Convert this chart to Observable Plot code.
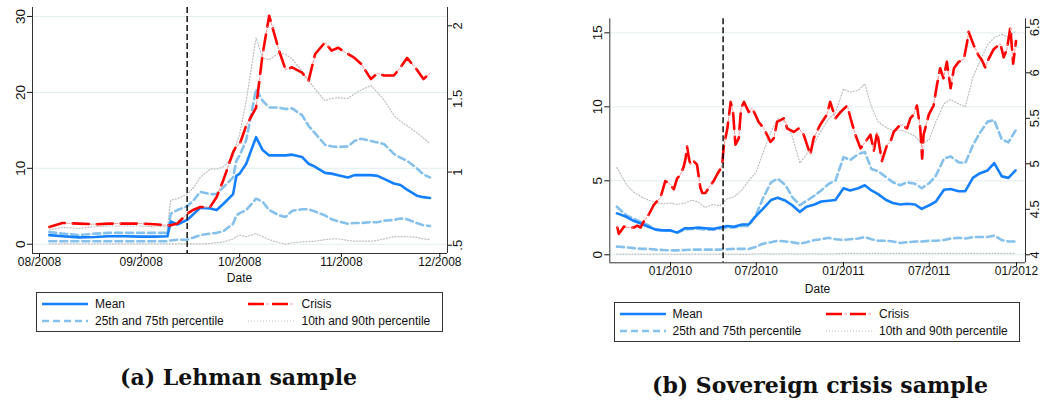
<!DOCTYPE html>
<html><head><meta charset="utf-8">
<script src="https://cdn.jsdelivr.net/npm/d3@7"></script>
<script src="https://cdn.jsdelivr.net/npm/@observablehq/plot@0.6"></script>
<style>
html,body{margin:0;padding:0;background:#fff;}
#root{position:relative;width:1041px;height:403px;overflow:hidden;font-family:"Liberation Sans",Arial,Helvetica,sans-serif;color:#111;}
.legend{position:absolute;border:1px solid #333;box-sizing:border-box;}
.item{position:absolute;font-size:12px;line-height:14px;white-space:nowrap;}
.cap{position:absolute;font-family:"DejaVu Serif",serif;font-weight:bold;font-size:22px;line-height:26px;white-space:nowrap;}
.xlab{position:absolute;font-size:12px;line-height:14px;transform:translateX(-50%);}
</style></head>
<body><div id="root"></div>
<script>
// ---------- Panel (a): Lehman sample ----------
const aDates = ["2008-08-04","2008-08-08","2008-08-13","2008-08-18","2008-08-22","2008-08-27","2008-09-01","2008-09-05","2008-09-09","2008-09-10","2008-09-12","2008-09-15","2008-09-17","2008-09-19","2008-09-22","2008-09-24","2008-09-26","2008-09-29","2008-09-30","2008-10-01","2008-10-03","2008-10-06","2008-10-08","2008-10-10","2008-10-13","2008-10-15","2008-10-17","2008-10-20","2008-10-22","2008-10-24","2008-10-27","2008-10-29","2008-10-31","2008-11-03","2008-11-05","2008-11-07","2008-11-10","2008-11-12","2008-11-14","2008-11-17","2008-11-19","2008-11-21","2008-11-24","2008-11-26","2008-11-28"];
const aMean = [1.2,1.05,0.9,0.95,1.05,1.05,1.0,1.0,1.05, 3.0,2.6,3.2,4.0,4.8,4.7,4.5,5.3,6.6,9.0, 9.3,10.6,14.1,12.4,11.7,11.7,11.7,11.8,11.5,10.6,10.2,9.4,9.3,9.1, 8.8,9.1,9.1,9.1,9.0,8.6,8.0,7.8,7.2,6.4,6.2,6.1];
const aP25 = [0.4,0.4,0.4,0.4,0.4,0.4,0.4,0.4,0.4, 0.5,0.6,0.6,0.9,1.2,1.4,1.5,1.7,2.7,3.8, 4.1,4.5,6.0,5.6,4.5,3.8,3.6,4.4,4.6,4.6,4.3,3.8,3.3,3.0, 2.7,2.8,2.8,2.9,2.9,3.1,3.2,3.4,3.3,2.8,2.5,2.4];
const aP75 = [1.6,1.4,1.2,1.4,1.5,1.5,1.5,1.5,1.5, 4.0,4.5,5.0,5.8,6.9,6.6,6.6,7.5,8.8,11.0, 11.7,13.7,20.4,18.9,18.0,18.0,17.8,17.9,17.0,15.6,14.6,13.1,12.9,12.8, 12.9,13.6,13.9,13.6,13.4,13.2,11.9,11.4,11.0,10.0,9.2,8.8];
const aP10 = [0.05,0.05,0.05,0.05,0.05,0.05,0.05,0.05,0.05, 0.05,0.05,0.05,0.05,0.05,0.1,0.2,0.3,0.7,1.0, 1.2,1.0,1.4,1.0,0.6,0.2,0.0,0.2,0.3,0.35,0.4,0.6,0.7,0.7, 0.5,0.4,0.4,0.4,0.5,0.7,1.0,1.0,1.0,0.9,0.7,0.6];
const aP90 = [1.9,2.2,2.1,2.3,2.4,2.4,2.4,2.3,2.3, 5.8,6.0,6.6,7.5,8.8,9.9,9.9,10.2,11.5,13.2, 14.5,18.9,27.2,24.5,24.3,25.2,25.0,24.4,22.8,21.6,20.4,18.9,19.2,19.3, 19.2,19.8,20.3,20.9,20.0,19.0,17.0,16.2,15.6,14.7,14.0,13.2];
// Crisis series is on the right-hand axis
const aCrisis = [0.625,0.652,0.648,0.643,0.648,0.648,0.648,0.643,0.636, 0.636,0.648,0.716,0.743,0.761,0.761,0.83,0.943,1.136,1.177, 1.19,1.318,1.44,1.807,2.068,1.83,1.70,1.716,1.68,1.625,1.807,1.886,1.83,1.85, 1.807,1.78,1.74,1.636,1.675,1.66,1.66,1.716,1.78,1.70,1.636,1.675];
const aLeftTicks = [0,10,20,30];
const aRightTicks = [0.5,1,1.5,2];
const aXTicks = ["2008-08-01","2008-09-01","2008-10-01","2008-11-01","2008-12-01"];
const aEvent = "2008-09-15";

// ---------- Panel (b): Sovereign crisis sample ----------
const bDates = ["2009-09-10","2009-09-15","2009-10-01","2009-10-15","2009-11-01","2009-11-15","2009-12-01","2009-12-15","2010-01-01","2010-01-15","2010-02-01","2010-02-15","2010-03-01","2010-03-15","2010-04-01","2010-04-15","2010-05-01","2010-05-15","2010-06-01","2010-06-15","2010-07-01","2010-07-15","2010-08-01","2010-08-15","2010-09-01","2010-09-15","2010-10-01","2010-10-15","2010-11-01","2010-11-15","2010-12-01","2010-12-15","2011-01-01","2011-01-15","2011-02-01","2011-02-15","2011-03-01","2011-03-15","2011-04-01","2011-04-15","2011-05-01","2011-05-15","2011-06-01","2011-06-15","2011-07-01","2011-07-15","2011-08-01","2011-08-15","2011-09-01","2011-09-15","2011-10-01","2011-10-15","2011-11-01","2011-11-15","2011-12-01","2011-12-15","2011-12-30"];
const bMean = [2.8,2.75,2.55,2.3,2.1,1.9,1.7,1.65,1.65,1.5,1.8,1.8,1.85,1.8,1.75,1.85,1.95,1.9,2.05,2.05, 2.65,3.1,3.7,3.85,3.65,3.35,2.9,3.25,3.4,3.6,3.65,3.7, 4.5,4.35,4.5,4.7,4.35,4.1,3.7,3.5,3.4,3.45,3.4,3.1,3.35,3.6,4.4,4.45,4.3,4.3,5.2,5.5,5.7,6.2,5.3,5.2,5.7];
const bP25 = [0.55,0.55,0.5,0.45,0.4,0.4,0.35,0.33,0.3,0.3,0.32,0.35,0.35,0.35,0.35,0.35,0.38,0.4,0.4,0.4, 0.55,0.75,0.85,0.95,0.9,0.85,0.75,0.85,1.0,1.05,1.15,1.05, 1.0,1.05,1.1,1.2,1.05,0.95,0.95,0.9,0.8,0.85,0.9,0.9,0.95,0.95,1.0,1.1,1.15,1.1,1.2,1.2,1.2,1.3,1.0,0.9,0.9];
const bP75 = [3.25,3.1,2.65,2.45,2.2,2.0,1.7,1.65,1.65,1.5,1.7,1.75,1.75,1.7,1.7,1.75,1.85,1.85,1.95,1.95, 2.75,3.8,4.9,5.15,4.7,3.9,3.35,3.65,4.0,4.35,4.8,5.0, 6.6,6.4,6.8,6.95,5.8,5.65,5.25,4.9,4.7,4.9,4.8,4.5,4.85,5.35,6.5,6.65,6.25,6.2,7.4,8.2,9.0,9.1,7.8,7.6,8.4];
const bP10 = [0.05,0.05,0.05,0.05,0.05,0.05,0.05,0.05,0.05,0.05,0.05,0.05,0.05,0.05,0.05,0.05,0.05,0.05,0.05,0.05, 0.07,0.07,0.07,0.07,0.07,0.07,0.07,0.07,0.07,0.07,0.07,0.07, 0.1,0.1,0.1,0.1,0.1,0.1,0.1,0.1,0.1,0.1,0.1,0.1,0.1,0.1,0.1,0.1,0.1,0.1,0.1,0.1,0.1,0.1,0.1,0.1,0.1];
const bP90 = [5.9,5.6,4.7,4.25,3.9,3.7,3.55,3.45,3.5,3.4,3.5,3.7,3.55,3.2,3.4,3.3,3.8,3.9,4.4,5.0, 5.6,6.9,8.3,9.2,9.0,8.0,6.2,6.8,7.6,8.4,9.2,9.6, 11.2,11.0,11.1,11.55,10.0,9.0,8.6,8.4,8.4,8.3,8.0,7.5,7.8,9.0,10.2,10.5,10.2,10.0,12.0,13.0,14.2,14.7,14.9,14.7,15.1];
const bCrisisDates = ["2009-09-11","2009-09-14","2009-09-18","2009-09-25","2009-10-02","2009-10-16","2009-10-23","2009-10-30","2009-11-06","2009-11-16","2009-11-27","2009-12-04","2009-12-11","2009-12-21","2009-12-28","2010-01-05","2010-01-08","2010-01-15","2010-01-22","2010-01-29","2010-02-02","2010-02-05","2010-02-09","2010-02-12","2010-02-19","2010-02-26","2010-03-05","2010-03-09","2010-03-16","2010-03-23","2010-04-02","2010-04-09","2010-04-16","2010-04-20","2010-04-23","2010-05-01","2010-05-08","2010-05-13","2010-05-18","2010-05-25","2010-05-30","2010-06-05","2010-06-15","2010-06-22","2010-06-29","2010-07-06","2010-07-17","2010-07-31","2010-08-07","2010-08-14","2010-08-28","2010-09-04","2010-09-18","2010-09-29","2010-10-09","2010-10-16","2010-10-23","2010-10-30","2010-11-13","2010-11-27","2010-12-04","2010-12-15","2010-12-26","2011-01-09","2011-01-16","2011-01-26","2011-02-06","2011-02-16","2011-02-27","2011-03-06","2011-03-13","2011-03-23","2011-04-03","2011-04-10","2011-04-17","2011-05-01","2011-05-15","2011-05-22","2011-05-29","2011-06-05","2011-06-12","2011-06-16","2011-06-19","2011-06-30","2011-07-10","2011-07-17","2011-07-24","2011-07-31","2011-08-07","2011-08-15","2011-08-22","2011-09-01","2011-09-12","2011-09-19","2011-09-22","2011-10-03","2011-10-13","2011-10-20","2011-10-27","2011-11-03","2011-11-14","2011-11-28","2011-12-05","2011-12-12","2011-12-19","2011-12-25","2011-12-31"];
const bCrisis = [4.30,4.23,4.26,4.31,4.30,4.30,4.32,4.30,4.37,4.44,4.55,4.59,4.63,4.81,4.79,4.74,4.72,4.84,4.88,4.97,5.06,5.19,5.06,4.99,5.03,4.99,4.74,4.68,4.68,4.74,4.81,4.88,4.94,4.98,5.17,5.39,5.68,5.57,5.21,5.28,5.61,5.68,5.57,5.61,5.54,5.46,5.39,5.24,5.28,5.46,5.50,5.39,5.35,5.39,5.32,5.21,5.10,5.28,5.43,5.54,5.68,5.50,5.57,5.64,5.50,5.32,5.17,5.24,5.32,5.14,5.35,5.03,5.21,5.24,5.35,5.43,5.39,5.50,5.54,5.64,5.39,5.06,5.32,5.54,5.64,5.86,6.05,5.94,6.12,5.83,6.05,6.12,6.15,6.34,6.45,6.30,6.19,6.14,6.06,6.15,6.26,6.32,6.17,6.26,6.50,6.10,6.35];
const bLeftTicks = [0,5,10,15];
const bRightTicks = [4,4.5,5,5.5,6,6.5];
const bXTicks = ["2010-01-01","2010-07-01","2011-01-01","2011-07-01","2012-01-01"];
const bEvent = "2010-04-22";

// ---------- styles ----------
const S = {
  mean:   {stroke:"#1580ff", strokeWidth:2.6},
  iqr:    {stroke:"#86c1ec", strokeWidth:2.6, strokeDasharray:"7,4"},
  dec:    {stroke:"#bdbdbd", strokeWidth:1.2, strokeDasharray:"1,2"},
  crisis: {stroke:"#ff0000", strokeWidth:2.6, strokeDasharray:"16,8"},
  crisisDot: {stroke:"#ff9a9a", strokeWidth:1, strokeDasharray:"0,18,3,3"}
};
const P = d => new Date(d.length === 10 ? d + "T00:00:00Z" : d);
const rows = (dates, vals, f = v => v) => dates.map((d, i) => ({date: P(d), v: f(vals[i])}));
const fmtR = r => { const s = String(+r.toFixed(1)); return s.startsWith("0.") ? s.slice(1) : s; };

function makePanel(c) {
  const toLeft = r => (r - c.rightBase) * c.rightScale;
  const fromLeft = v => v / c.rightScale + c.rightBase;
  const xd = c.xDomain.map(P);
  const line = (vals, st) => Plot.line(rows(c.dates, vals), {x: "date", y: "v", ...st});
  const crisisRows = rows(c.crisisDates, c.crisis, toLeft);
  const svg = Plot.plot({
    width: c.width, height: c.height,
    marginLeft: c.ml, marginRight: c.mr, marginTop: c.mt, marginBottom: c.mb,
    x: {type: "utc", domain: xd},
    y: {domain: c.yDomain},
    style: {fontFamily: "Liberation Sans, Arial, sans-serif", fontSize: "12px", color: "#111", background: "transparent", overflow: "visible"},
    marks: [
      Plot.ruleY(c.leftTicks, {stroke: "#e2edf0", strokeWidth: 1}),
      line(c.p10, S.dec), line(c.p90, S.dec),
      line(c.p25, S.iqr), line(c.p75, S.iqr),
      line(c.mean, S.mean),
      Plot.line(crisisRows, {x: "date", y: "v", ...S.crisis}),
      Plot.line(crisisRows, {x: "date", y: "v", ...S.crisisDot}),
      Plot.ruleX([P(c.event)], {stroke: "#000", strokeWidth: 1.4, strokeDasharray: "6,3"}),
      Plot.ruleX(xd, {stroke: "#333", strokeWidth: 1}),
      Plot.ruleY([c.yDomain[0]], {stroke: "#333", strokeWidth: 1}),
      Plot.axisY({anchor: "left", ticks: c.leftTicks, tickRotate: -90, tickSize: 5, tickPadding: 3, label: null, fontSize: 13.5}),
      Plot.axisY({anchor: "right", ticks: c.rightTicks.map(toLeft), tickFormat: v => fmtR(fromLeft(v)), tickRotate: -90, lineAnchor: "top", tickSize: 4, tickPadding: c.rpad, label: null, fontSize: 13}),
      Plot.axisX({ticks: c.xTicks.map(P), tickFormat: d3.utcFormat("%m/%Y"), tickSize: 4, tickPadding: 0, label: null, fontSize: 12})
    ]
  });
  svg.style.position = "absolute";
  svg.style.left = c.left + "px";
  svg.style.top = "0px";
  return svg;
}

const root = document.getElementById("root");
root.appendChild(makePanel({
  left: 0, width: 520, height: 290, ml: 32, mr: 73, mt: 7, mb: 37, rpad: 1.5,
  xDomain: ["2008-07-29T21:00:00Z", "2008-12-03T08:00:00Z"], yDomain: [-1.22, 31.18],
  rightBase: 0.5068, rightScale: 19.27,
  dates: aDates, mean: aMean, p25: aP25, p75: aP75, p10: aP10, p90: aP90,
  crisisDates: aDates, crisis: aCrisis,
  leftTicks: aLeftTicks, rightTicks: aRightTicks, xTicks: aXTicks, event: aEvent
}));
root.appendChild(makePanel({
  left: 520, width: 521, height: 300, ml: 89.3, mr: 16, mt: 18.3, mb: 37.7, rpad: 0,
  xDomain: ["2009-08-26", "2012-01-20"], yDomain: [-0.54, 15.95],
  rightBase: 4, rightScale: 6.15,
  dates: bDates, mean: bMean, p25: bP25, p75: bP75, p10: bP10, p90: bP90,
  crisisDates: bCrisisDates, crisis: bCrisis,
  leftTicks: bLeftTicks, rightTicks: bRightTicks, xTicks: bXTicks, event: bEvent
}));

// ---------- "Date" axis titles ----------
function addDiv(cls, text, left, top) {
  const d = document.createElement("div");
  d.className = cls; d.textContent = text;
  d.style.left = left + "px"; d.style.top = top + "px";
  root.appendChild(d);
  return d;
}
addDiv("xlab", "Date", 239.5, 271);
addDiv("xlab", "Date", 817.5, 282);

// ---------- legends ----------
const legendItems = [
  {label: "Mean", styles: [S.mean], col: 0, row: 0},
  {label: "Crisis", styles: [S.crisis, S.crisisDot], col: 1, row: 0},
  {label: "25th and 75th percentile", styles: [S.iqr], col: 0, row: 1},
  {label: "10th and 90th percentile", styles: [S.dec], col: 1, row: 1}
];
function drawLegend(L) {
  const box = document.createElement("div");
  box.className = "legend";
  Object.assign(box.style, {left: L.left + "px", top: L.top + "px", width: L.width + "px", height: L.height + "px"});
  root.appendChild(box);
  for (const it of legendItems) {
    const y = L.rowY[it.row];
    const sx = L.sampleX[it.col];
    const ns = "http://www.w3.org/2000/svg";
    const s = document.createElementNS(ns, "svg");
    s.setAttribute("width", L.sampleW); s.setAttribute("height", 8);
    Object.assign(s.style, {position: "absolute", left: sx + "px", top: (y - 4) + "px"});
    for (const st of it.styles) {
      const ln = document.createElementNS(ns, "line");
      ln.setAttribute("x1", 0); ln.setAttribute("x2", L.sampleW);
      ln.setAttribute("y1", 4); ln.setAttribute("y2", 4);
      ln.setAttribute("stroke", st.stroke);
      ln.setAttribute("stroke-width", st.strokeWidth);
      if (st.strokeDasharray) ln.setAttribute("stroke-dasharray", st.strokeDasharray);
      s.appendChild(ln);
    }
    root.appendChild(s);
    addDiv("item", it.label, L.textX[it.col], y - 7);
  }
}
drawLegend({left: 36, top: 292, width: 407, height: 40, rowY: [304, 321], sampleX: [42, 248], sampleW: 46, textX: [95, 301.5]});
drawLegend({left: 614, top: 302, width: 406, height: 40, rowY: [314.3, 330.7], sampleX: [619.5, 826], sampleW: 46, textX: [672.5, 879]});

// ---------- captions ----------
addDiv("cap", "(a) Lehman sample", 120, 364);
addDiv("cap", "(b) Sovereign crisis sample", 652, 372);
</script></body></html>
